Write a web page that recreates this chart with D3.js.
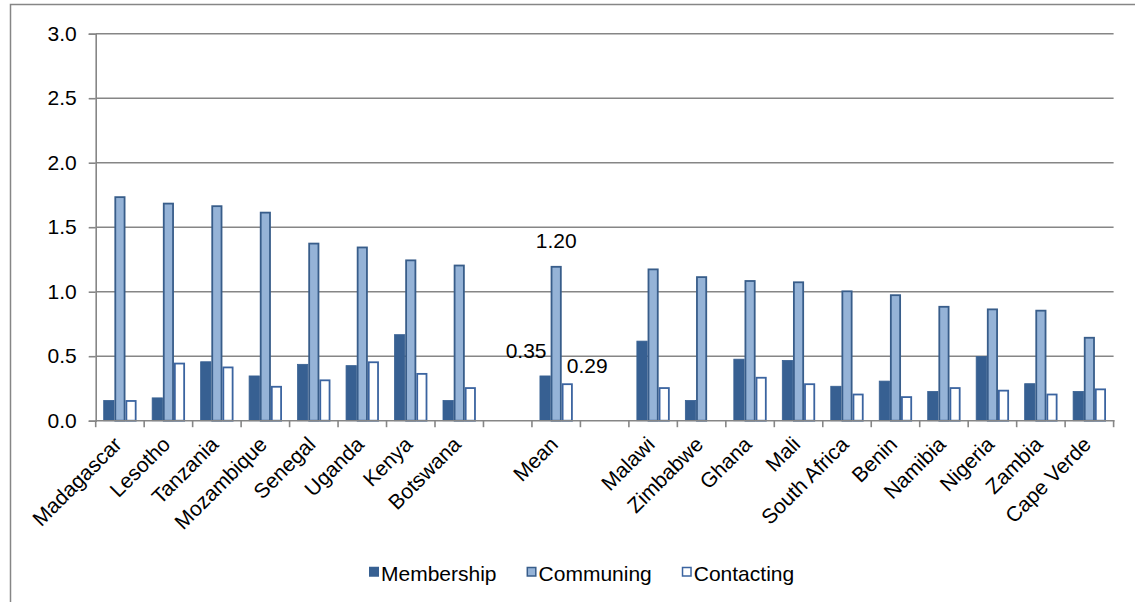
<!DOCTYPE html>
<html>
<head>
<meta charset="utf-8">
<script src="https://cdn.jsdelivr.net/npm/d3@7"></script>
<style>
  html, body { margin: 0; padding: 0; background: #fff; }
  svg { display: block; font-family: "Liberation Sans", Arial, sans-serif; }
</style>
</head>
<body>
<svg id="chart" width="1135" height="602"></svg>
<script>
// Countries, ordered by communing score; blank slots separate the mean
const categories = ["Madagascar", "Lesotho", "Tanzania", "Mozambique", "Senegal", "Uganda", "Kenya", "Botswana",
  "", "Mean", "",
  "Malawi", "Zimbabwe", "Ghana", "Mali", "South Africa", "Benin", "Namibia", "Nigeria", "Zambia", "Cape Verde"];
const membership = [0.16, 0.18, 0.46, 0.35, 0.44, 0.43, 0.67, 0.16, null, 0.35, null,
  0.62, 0.16, 0.48, 0.47, 0.27, 0.31, 0.23, 0.50, 0.29, 0.23];
const communing = [1.74, 1.69, 1.67, 1.62, 1.38, 1.35, 1.25, 1.21, null, 1.20, null,
  1.18, 1.12, 1.09, 1.08, 1.01, 0.98, 0.89, 0.87, 0.86, 0.65];
const contacting = [0.16, 0.45, 0.42, 0.27, 0.32, 0.46, 0.37, 0.26, null, 0.29, null,
  0.26, null, 0.34, 0.29, 0.21, 0.19, 0.26, 0.24, 0.21, 0.25];
const seriesNames = ["Membership", "Communing", "Contacting"];
const yTicks = [0, 0.5, 1.0, 1.5, 2.0, 2.5, 3.0];
const labelledCategory = "Mean";

const seriesData = [membership, communing, contacting];
const fills = ["#376092", "#95B3D7", "#ffffff"];
const strokes = ["#376092", "#385D8A", "#3B64A0"];
const grid = "#868686";
const fontSize = "21px";

const svg = d3.select("#chart");

// outer chart frame (runs off the right and bottom edges)
svg.append("rect")
  .attr("x", 10.5).attr("y", 4.5)
  .attr("width", 1200).attr("height", 700)
  .attr("fill", "none").attr("stroke", grid).attr("stroke-width", 1.5);

const plot = { left: 95.7, right: 1113.6, top: 33.7, bottom: 420.7 };

const x = d3.scaleBand()
  .domain(d3.range(categories.length))
  .range([plot.left, plot.right])
  .paddingInner(0).paddingOuter(0);

const y = d3.scaleLinear().domain([0, 3]).range([plot.bottom, plot.top]);

// horizontal gridlines
svg.append("g")
  .selectAll("line")
  .data(yTicks.filter(d => d > 0))
  .join("line")
  .attr("x1", plot.left).attr("x2", plot.right)
  .attr("y1", d => y(d)).attr("y2", d => y(d))
  .attr("stroke", grid).attr("stroke-width", 1.6);

// y axis
const yAxis = svg.append("g")
  .attr("transform", `translate(${plot.left},0)`)
  .call(d3.axisLeft(y).tickValues(yTicks).tickFormat(d3.format(".1f")).tickSize(7).tickPadding(12));
yAxis.select(".domain").attr("stroke", grid).attr("stroke-width", 1.6);
yAxis.selectAll(".tick line").attr("stroke", grid).attr("stroke-width", 1.6);
yAxis.selectAll(".tick text")
  .attr("font-size", fontSize).attr("fill", "#000")
  .attr("font-family", "Liberation Sans, Arial, sans-serif");

// bars
const inner = d3.scaleBand()
  .domain(d3.range(seriesNames.length))
  .range([0, x.bandwidth()])
  .paddingOuter(0.685).paddingInner(0);

seriesData.forEach((vals, s) => {
  const sw = s === 0 ? 0.8 : 1.8;
  svg.append("g")
    .selectAll("rect")
    .data(vals.map((v, i) => ({ v, i })).filter(d => d.v != null))
    .join("rect")
    .attr("x", d => x(d.i) + inner(s) + sw / 2)
    .attr("y", d => y(d.v) + sw / 2)
    .attr("width", inner.bandwidth() - sw)
    .attr("height", d => y(0) - y(d.v) - sw / 2)
    .attr("fill", fills[s])
    .attr("stroke", strokes[s])
    .attr("stroke-width", sw);
});

// x axis line and category ticks
svg.append("line")
  .attr("x1", plot.left).attr("x2", plot.right + 1)
  .attr("y1", y(0)).attr("y2", y(0))
  .attr("stroke", grid).attr("stroke-width", 1.6);
svg.append("g")
  .selectAll("line")
  .data(d3.range(categories.length + 1))
  .join("line")
  .attr("x1", i => plot.left + i * x.step()).attr("x2", i => plot.left + i * x.step())
  .attr("y1", y(0)).attr("y2", y(0) + 6.5)
  .attr("stroke", grid).attr("stroke-width", 1.6);

// rotated category labels
svg.append("g")
  .selectAll("text")
  .data(categories.map((c, i) => ({ c, i })).filter(d => d.c !== ""))
  .join("text")
  .attr("transform", d => `translate(${x(d.i) + x.bandwidth() / 2 + 3},${y(0) + 25}) rotate(-45)`)
  .attr("text-anchor", "end")
  .attr("font-size", fontSize)
  .attr("fill", "#000")
  .text(d => d.c);

// value labels on the mean group
const mi = categories.indexOf(labelledCategory);
const labelOffsets = [[-19, -18], [0, -18], [20, -10]];
svg.append("g")
  .selectAll("text")
  .data(seriesData.map((vals, s) => ({ v: vals[mi], s })))
  .join("text")
  .attr("x", d => x(mi) + inner(d.s) + inner.bandwidth() / 2 + labelOffsets[d.s][0])
  .attr("y", d => y(d.v) + labelOffsets[d.s][1])
  .attr("text-anchor", "middle")
  .attr("font-size", fontSize)
  .attr("fill", "#000")
  .text(d => d3.format(".2f")(d.v));

// legend
const legend = svg.append("g").attr("transform", "translate(369,0)");
let lx = 0;
seriesNames.forEach((name, s) => {
  const g = legend.append("g").attr("transform", `translate(${lx},0)`);
  g.append("rect")
    .attr("x", 0.75).attr("y", 567.5)
    .attr("width", 8.5).attr("height", 8.5)
    .attr("fill", fills[s]).attr("stroke", strokes[s]).attr("stroke-width", 1.5);
  const t = g.append("text")
    .attr("x", 12).attr("y", 581)
    .attr("font-size", fontSize).attr("fill", "#000")
    .text(name);
  lx += 12 + t.node().getComputedTextLength() + 30;
});
</script>
</body>
</html>
